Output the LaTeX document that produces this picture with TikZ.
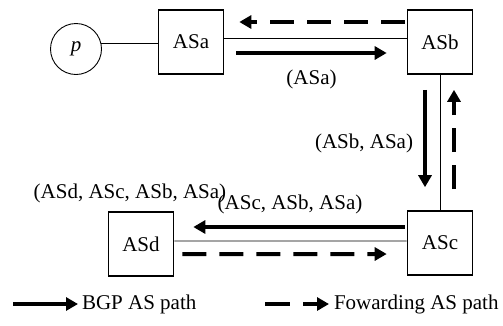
\documentclass[tikz,border=0pt]{standalone}
\usepackage{fontspec}
\setmainfont{Liberation Serif}
\usetikzlibrary{arrows.meta}
\tikzset{
    asbox/.style={draw, line width=1.6bp, minimum width=65bp, minimum height=64bp, inner sep=0pt},
    link/.style={line width=0.9bp},
    bgp/.style={line width=4bp, -{Triangle[length=12bp,width=13bp]}},
    fwd/.style={bgp, dash pattern=on 24bp off 13bp},
    lbl/.style={inner sep=0pt},
}
\begin{document}
\begin{tikzpicture}[x=1bp, y=-1bp, font=\fontsize{21bp}{25bp}\selectfont]
    \useasboundingbox (0,0) rectangle (503,325);
    % prefix owner
    \node[draw, circle, line width=0.9bp, minimum size=51bp, inner sep=0pt] (p) at (76,49) {\textit{p}};
    % AS boxes
    \node[asbox] (ASa) at (191,42) {ASa};
    \node[asbox] (ASb) at (440,42) {ASb};
    \node[asbox] (ASc) at (440,243) {ASc};
    \node[asbox] (ASd) at (141,244) {ASd};
    % links
    \draw[link] (p.12) -- (p.12 -| ASa.west);
    \draw[link] ([yshift=4bp]ASa.east) -- ([yshift=4bp]ASb.west);
    \draw[link] (ASb.south) -- (ASc.north);
    \draw[link] ([yshift=3bp]ASd.east) -- ([yshift=2bp]ASc.west);
    % ASa -> ASb
    \draw[bgp] ([xshift=12bp,yshift=-11bp]ASa.east) -- node[lbl, below=15bp] (la) {(ASa)} ([xshift=-20bp,yshift=-11bp]ASb.west);
    \draw[fwd] ([xshift=-2bp,yshift=20bp]ASb.west) -- ([xshift=15bp,yshift=20bp]ASa.east);
    % ASb -> ASc
    \draw[bgp] ([xshift=-15bp,yshift=-15bp]ASb.south) -- node[lbl, left=10bp, pos=0.55] (lb) {(ASb, ASa)} ([xshift=-15bp,yshift=23bp]ASc.north);
    \draw[fwd] ([xshift=14bp,yshift=21bp]ASc.north) -- ([xshift=14bp,yshift=-15bp]ASb.south);
    % ASc -> ASd
    \draw[bgp] ([xshift=-2bp,yshift=16bp]ASc.west) -- node[lbl, above=11bp, xshift=-9bp] (lc) {(ASc, ASb, ASa)} ([xshift=19bp,yshift=17bp]ASd.east);
    \draw[fwd] ([xshift=8bp,yshift=-10bp]ASd.east) -- ([xshift=-20bp,yshift=-11bp]ASc.west);
    \node[lbl] (ld) at (130,193) {(ASd, ASc, ASb, ASa)};
    % legend
    \coordinate (k1) at (13,304);
    \coordinate (k2) at (78,304);
    \draw[bgp] (k1) -- (k2) node[lbl, right=2bp] (kb) {BGP AS path};
    \coordinate (k3) at (265,304);
    \coordinate (k4) at (329,304);
    \draw[fwd, dash pattern=on 25bp off 13bp] (k3) -- (k4) node[lbl, right=3bp] (kf) {Fowarding AS path};
\end{tikzpicture}
\end{document}
